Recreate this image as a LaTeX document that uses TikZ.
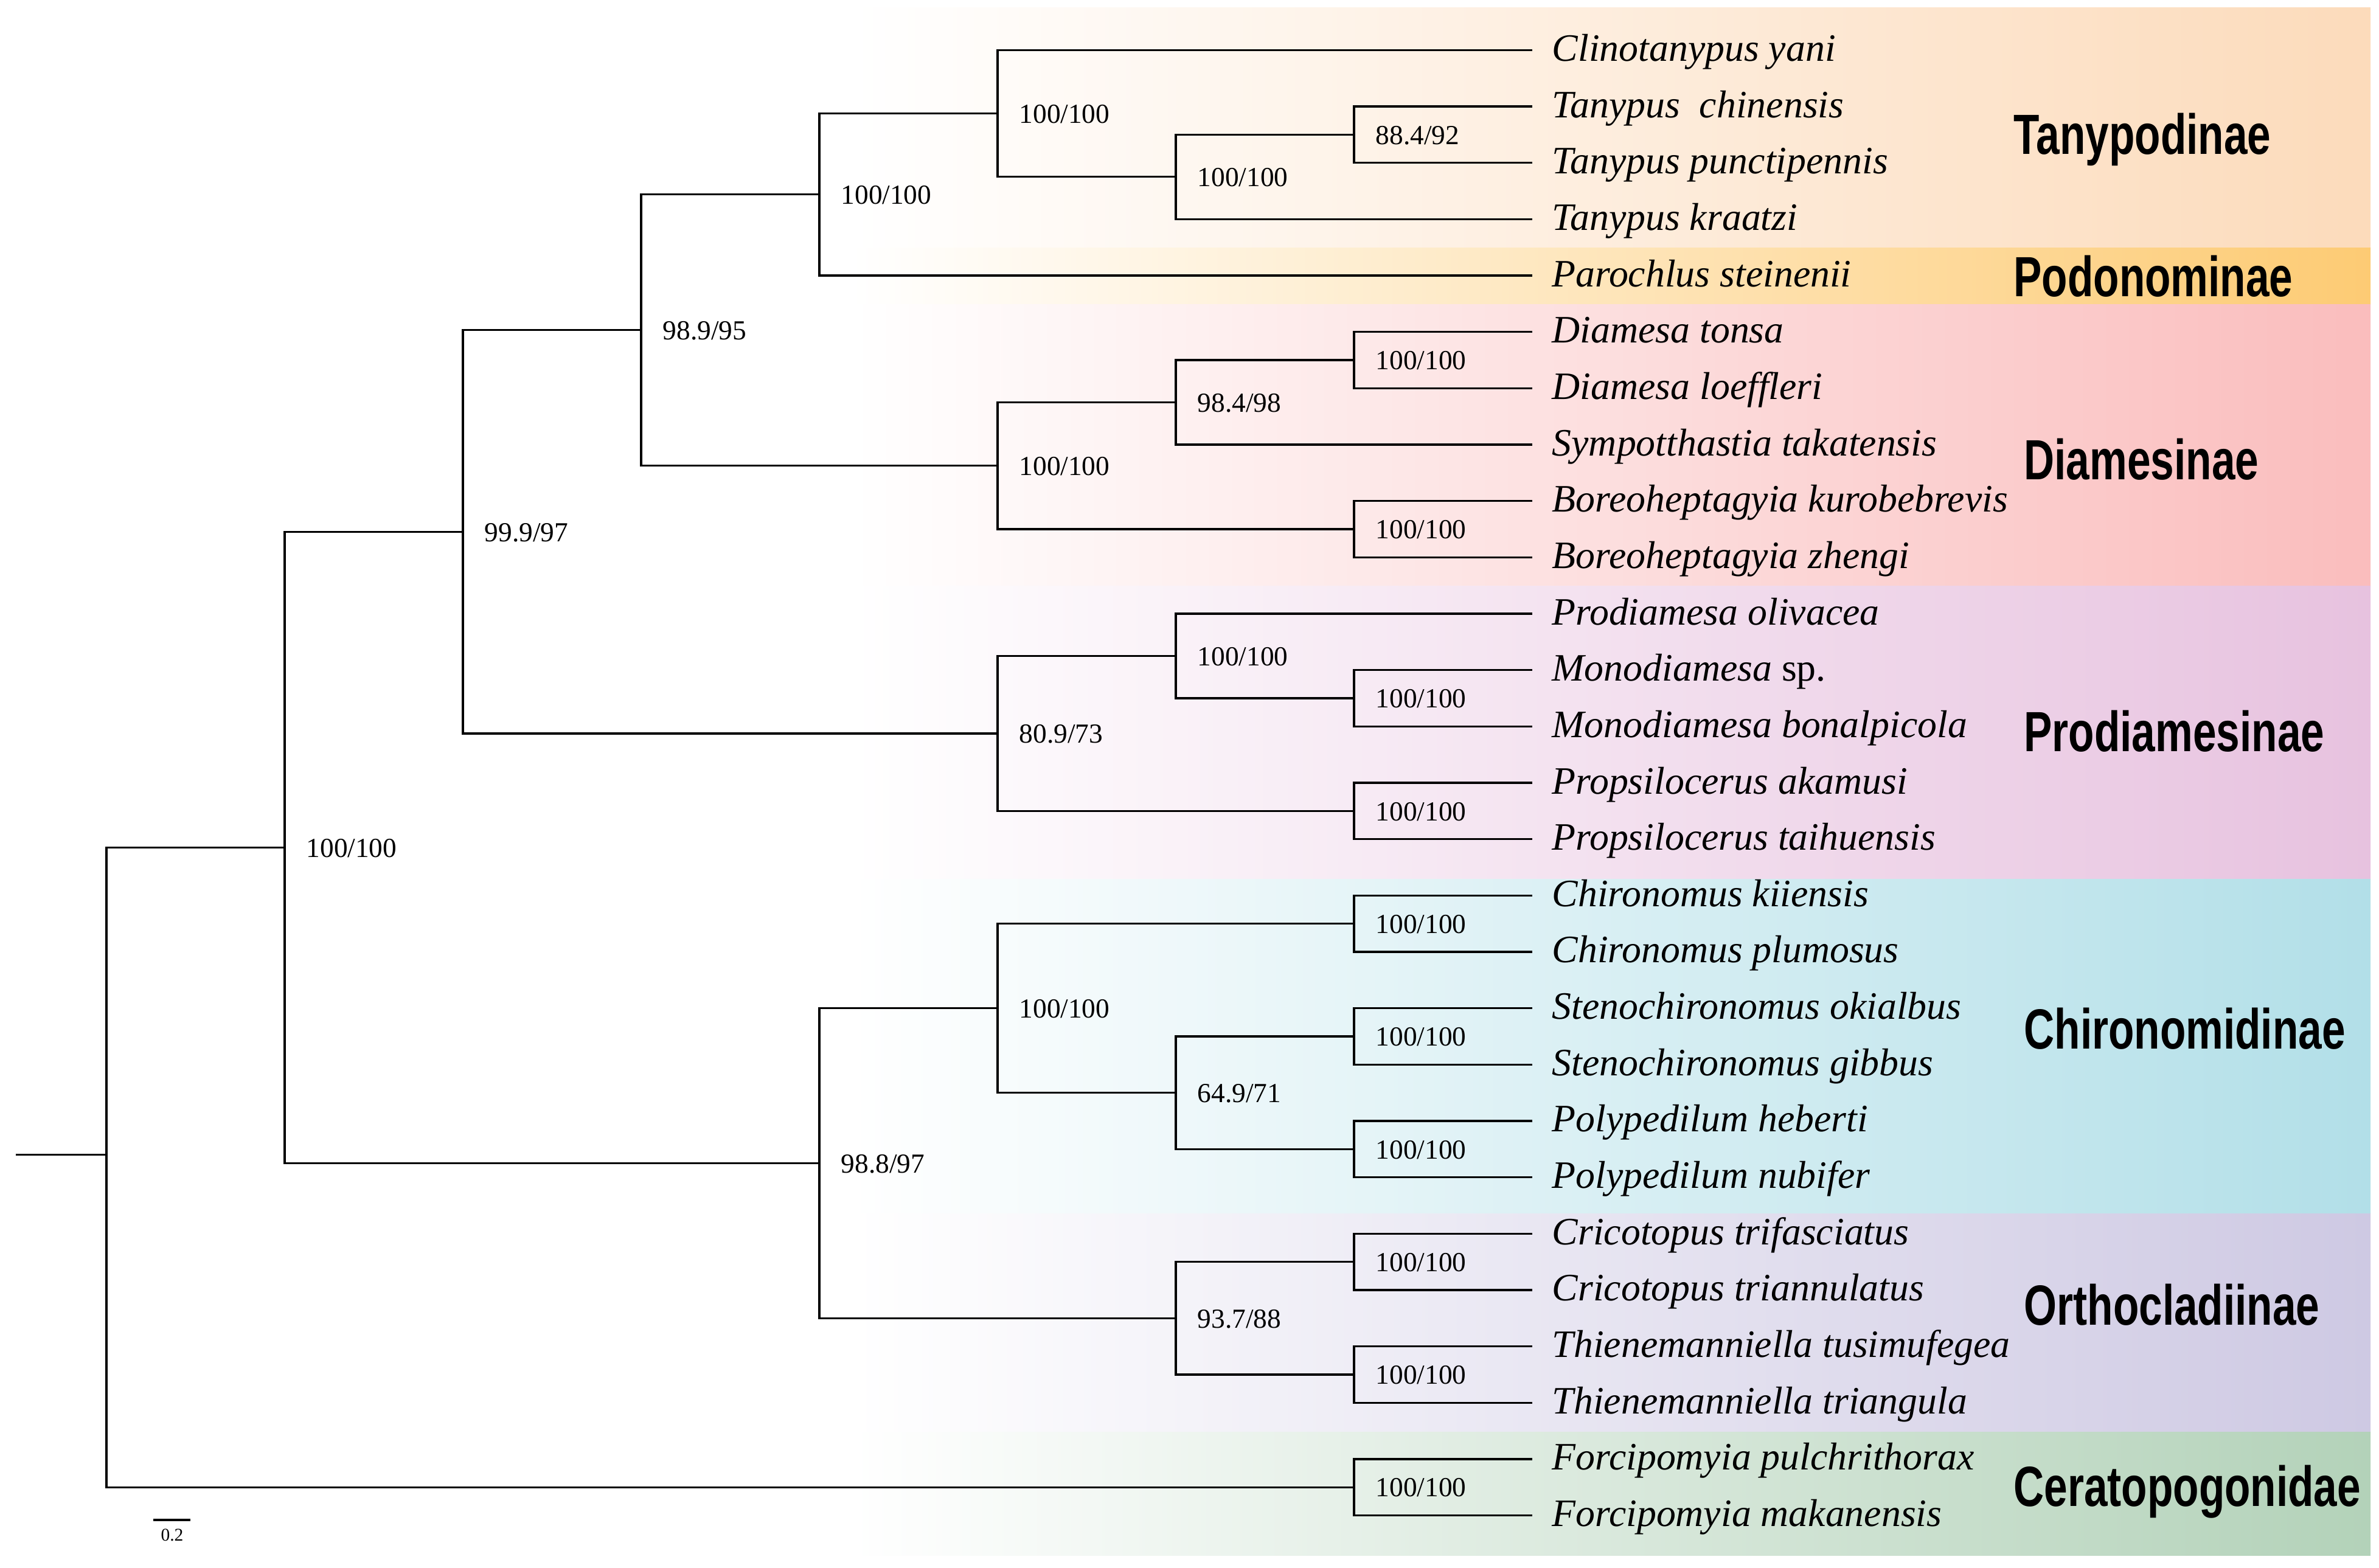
\documentclass[tikz,border=0pt]{standalone}
\usepackage{fontspec}
\setmainfont{Liberation Serif}
\newfontfamily\cladefont{Liberation Sans}
\usetikzlibrary{calc}

\definecolor{tanycol}{HTML}{FCDBBB}
\definecolor{podocol}{HTML}{FDCB74}
\definecolor{diamcol}{HTML}{FABDBD}
\definecolor{prodcol}{HTML}{E7C2DF}
\definecolor{chircol}{HTML}{B2DFE8}
\definecolor{orthcol}{HTML}{CEC9E3}
\definecolor{ceracol}{HTML}{B3D2B9}

\tikzset{
  branch/.style={line width=0.95pt, line join=miter},
  band/.style={left color=white, right color=#1, draw=none},
  tip/.style={anchor=west, inner xsep=0.32cm, inner ysep=0pt, text height=1.03em, text depth=0pt,
    font=\fontsize{18.15}{20}\selectfont\itshape},
  support/.style={anchor=west, inner sep=0pt, xshift=0.35cm, text height=0.9em, text depth=0pt,
    font=\fontsize{12.9}{14}\selectfont},
  cladelabel/.style={anchor=west, inner sep=0pt, xscale=0.745, text height=0.716em, text depth=0pt,
    font=\cladefont\bfseries\fontsize{26.5}{28}\selectfont}
}

% \clade[fraction]{name}{level}{upper child}{lower child}{support}
\newcommand{\clade}[6][0.5]{%
  \path let \p1=(#4.west), \p2=(#5.west) in
    coordinate (#2) at ({(1.75+2.93*#3)*1cm}, {\y1+#1*(\y2-\y1)});
  \draw[branch] (#4.west) -| (#2) |- (#5.west);
  \node[support] (#2s) at (#2) {#6};
}

\begin{document}
\begin{tikzpicture}
\useasboundingbox (0,0) rectangle (39.11,-25.77);

% subfamily bands
\fill[band=tanycol] (14,-0.12) rectangle (38.97,-4.07);
\fill[band=podocol] (14,-4.07) rectangle (38.97,-5.00);
\fill[band=diamcol] (14,-5.00) rectangle (38.97,-9.63);
\fill[band=prodcol] (14,-9.63) rectangle (38.97,-14.45);
\fill[band=chircol] (14,-14.45) rectangle (38.97,-19.95);
\fill[band=orthcol] (14,-19.95) rectangle (38.97,-23.54);
\fill[band=ceracol] (14,-23.54) rectangle (38.97,-25.57);

% taxa
\foreach \nm/\txt [count=\i from 0] in {
  clyani/Clinotanypus yani, tachin/Tanypus\ \ chinensis, tapunc/Tanypus punctipennis,
  takraa/Tanypus kraatzi, paste/Parochlus steinenii, ditons/Diamesa tonsa,
  diloef/Diamesa loeffleri, sytaka/Sympotthastia takatensis,
  bokuro/Boreoheptagyia kurobebrevis, bozhen/Boreoheptagyia zhengi,
  prooli/Prodiamesa olivacea, mosp/{Monodiamesa \textup{sp.}},
  mobona/Monodiamesa bonalpicola, prakam/Propsilocerus akamusi,
  prtaih/Propsilocerus taihuensis, chkiie/Chironomus kiiensis,
  chplum/Chironomus plumosus, stokia/Stenochironomus okialbus,
  stgibb/Stenochironomus gibbus, pohebe/Polypedilum heberti,
  ponubi/Polypedilum nubifer, crtrif/Cricotopus trifasciatus,
  crtria/Cricotopus triannulatus, thtusi/Thienemanniella tusimufegea,
  thtria/Thienemanniella triangula, fopulc/Forcipomyia pulchrithorax,
  fomaka/Forcipomyia makanensis}
  \node[tip] (\nm) at (25.19, {-0.823-0.9266*\i}) {\txt};

% Tanypodinae + Podonominae
\clade{tany1}{7}{tachin}{tapunc}{88.4/92}
\clade{tany2}{6}{tany1}{takraa}{100/100}
\clade{tany3}{5}{clyani}{tany2}{100/100}
\clade{podo}{4}{tany3}{paste}{100/100}
% Diamesinae
\clade{dia1}{7}{ditons}{diloef}{100/100}
\clade{dia2}{6}{dia1}{sytaka}{98.4/98}
\clade{dia3}{7}{bokuro}{bozhen}{100/100}
\clade{dia4}{5}{dia2}{dia3}{100/100}
\clade{upper}{3}{podo}{dia4}{98.9/95}
% Prodiamesinae
\clade{pro1}{7}{mosp}{mobona}{100/100}
\clade{pro2}{6}{prooli}{pro1}{100/100}
\clade{pro3}{7}{prakam}{prtaih}{100/100}
\clade{pro4}{5}{pro2}{pro3}{80.9/73}
\clade{bigtop}{2}{upper}{pro4}{99.9/97}
% Chironomidinae + Orthocladiinae
\clade{chi1}{7}{chkiie}{chplum}{100/100}
\clade{chi2}{7}{stokia}{stgibb}{100/100}
\clade{chi3}{7}{pohebe}{ponubi}{100/100}
\clade{chi4}{6}{chi2}{chi3}{64.9/71}
\clade{chi5}{5}{chi1}{chi4}{100/100}
\clade{ort1}{7}{crtrif}{crtria}{100/100}
\clade{ort2}{7}{thtusi}{thtria}{100/100}
\clade{ort3}{6}{ort1}{ort2}{93.7/88}
\clade{low}{4}{chi5}{ort3}{98.8/97}
\clade{chiro}{1}{bigtop}{low}{100/100}
% outgroup
\clade{cera}{7}{fopulc}{fomaka}{100/100}

% root
\path let \p1=(chiro), \p2=(cera) in coordinate (root) at (1.75cm, {\y1+0.48*(\y2-\y1)});
\draw[branch] (chiro) -| (root) |- (cera);
\coordinate (stub) at ($(root)+(-1.49,0)$);
\draw[branch] (stub) -- (root);

% group labels
\node[cladelabel] (tanylab) at (33.10,-2.41) {Tanypodinae};
\node[cladelabel] (podolab) at (33.10,-4.75) {Podonominae};
\node[cladelabel] (diamlab) at (33.27,-7.76) {Diamesinae};
\node[cladelabel] (prodlab) at (33.27,-12.23) {Prodiamesinae};
\node[cladelabel] (chirlab) at (33.27,-17.12) {Chironomidinae};
\node[cladelabel] (orthlab) at (33.27,-21.66) {Orthocladiinae};
\node[cladelabel] (ceralab) at (33.10,-24.64) {Ceratopogonidae};

% scale bar
\coordinate (sbl) at (2.52,-24.99);
\coordinate (sbr) at (3.13,-24.99);
\draw[line width=1.3pt] (sbl) -- (sbr);
\node[inner sep=0pt, font=\fontsize{8.4}{9}\selectfont] (sblab) at (2.83,-25.24) {0.2};
\end{tikzpicture}
\end{document}
